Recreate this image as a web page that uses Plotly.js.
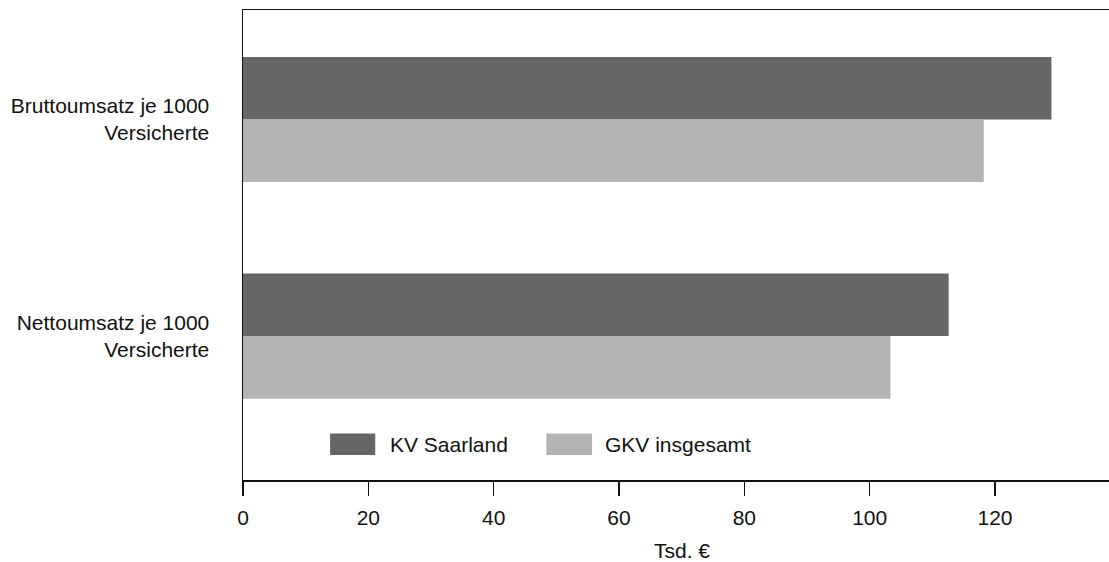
<!DOCTYPE html>
<html>
<head>
<meta charset="utf-8">
<script src="https://cdn.plot.ly/plotly-3.0.1.min.js"></script>
<style>
html,body{margin:0;padding:0;overflow:hidden;background:#fff;}
#chart{width:1121px;height:562px;}
</style>
</head>
<body>
<div id="chart"></div>
<script>
const categories = ["Bruttoumsatz je 1000<br>Versicherte", "Nettoumsatz je 1000<br>Versicherte"];
const seriesNames = ["KV Saarland", "GKV insgesamt"];
const kvSaarland = [129.0, 112.6];
const gkvInsgesamt = [118.2, 103.3];
const xTickVals = [0, 20, 40, 60, 80, 100, 120];
const xTitle = "Tsd. €";
const colors = ["#666666", "#b3b3b3"];

const font = {family: "Liberation Sans, Arial, sans-serif", size: 21, color: "#111"};

const traces = [kvSaarland, gkvInsgesamt].map((vals, i) => ({
  type: "bar",
  orientation: "h",
  name: seriesNames[i],
  x: vals,
  y: categories,
  marker: {color: colors[i], line: {width: 0}},
  hoverinfo: "x+name"
}));

// custom legend (large swatches) built from series names/colours
const legendPos = [
  {sx0: 13.9, sx1: 21.1, tx: 23.2},
  {sx0: 48.4, sx1: 55.7, tx: 57.4}
];
const shapes = legendPos.map((p, i) => ({
  type: "rect", xref: "x", yref: "y",
  x0: p.sx0, x1: p.sx1, y0: 1.449, y1: 1.549,
  fillcolor: colors[i], line: {width: 0}
}));
const annotations = legendPos.map((p, i) => ({
  xref: "x", yref: "y", x: p.tx, y: 1.5,
  text: seriesNames[i], showarrow: false,
  xanchor: "left", yanchor: "middle", font: font
}));

const layout = {
  width: 1121, height: 562,
  margin: {l: 243, r: 0, t: 10, b: 82},
  paper_bgcolor: "#fff", plot_bgcolor: "#fff",
  font: font,
  barmode: "group",
  bargap: 0.423,
  bargroupgap: 0,
  showlegend: false,
  xaxis: {
    range: [0, 140.1],
    tickvals: xTickVals,
    ticks: "outside", ticklen: 14, tickwidth: 1.5, tickcolor: "#111",
    showline: true, linewidth: 1.5, linecolor: "#111", mirror: true,
    showgrid: false, zeroline: false,
    tickfont: font, ticklabelstandoff: 4,
    title: {text: xTitle, font: font, standoff: 16},
    automargin: false
  },
  yaxis: {
    type: "category",
    range: [1.664, -0.505],
    showline: true, linewidth: 1.5, linecolor: "#111",
    showgrid: false, zeroline: false,
    ticks: "", ticklabelstandoff: 28,
    tickfont: font,
    automargin: false
  },
  shapes: shapes,
  annotations: annotations
};

Plotly.newPlot("chart", traces, layout, {displayModeBar: false, staticPlot: true});
</script>
</body>
</html>
